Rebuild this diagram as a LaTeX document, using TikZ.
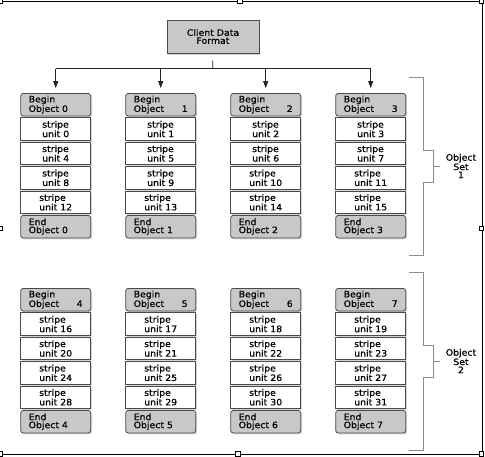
\documentclass[tikz,border=0pt]{standalone}
\usepackage{fontspec}
\setmainfont{DejaVu Sans}[FakeStretch=1.06,FakeBold=0.6]
\usetikzlibrary{arrows.meta,shadows}
\definecolor{boxgray}{HTML}{C8C8C8}
\definecolor{edge}{HTML}{4A4A4A}
\definecolor{conn}{HTML}{222222}
\definecolor{brc}{HTML}{8A8A8A}
\tikzset{
  shad/.style={drop shadow={opacity=0.35,shadow xshift=1.3pt,shadow yshift=-1.5pt}},
  gbox/.style={draw=edge,line width=0.8pt,fill=boxgray,rounded corners=2.5pt,
    minimum width=70pt,minimum height=22.5pt,inner sep=0pt,text width=54pt,align=left,shad},
  sbox/.style={draw=edge,line width=0.8pt,fill=white,minimum width=70pt,
    minimum height=22.5pt,inner sep=0pt,align=left,shad},
  topbox/.style={draw=edge,line width=0.8pt,fill=boxgray,minimum width=92pt,
    minimum height=33pt,inner sep=0pt,align=center,shad},
  conn/.style={draw=conn,line width=0.7pt},
  arr/.style={conn,-{Triangle[length=7pt,width=5pt]},shorten >=5pt},
  brace/.style={draw=brc,line width=0.9pt},
  setlabel/.style={align=center,inner sep=0pt},
  frame/.style={draw=black,line width=0.9pt},
  handle/.style={draw=black,fill=white,line width=0.6pt,minimum size=4.5pt,inner sep=0pt}
}
\begin{document}
\begin{tikzpicture}[x=1pt,y=-1pt,font=\fontsize{8.8}{8}\selectfont]
\useasboundingbox (0,0) rectangle (485,456);
% selection frame
\draw[frame] (-2,1.5) -- (482,1.5) -- (482,454) -- (-2,454);
\foreach \hx/\hy [count=\h] in {0.5/1.5,240/1.5,481.5/1.5,0.5/228.5,481.5/228.5,0.5/454,238/454,481.5/454}
  \node[handle] (h\h) at (\hx,\hy) {};
% top box
\node[topbox] (cdf) at (213,36.5) {Client Data\\Format};
% objects
\foreach \i in {0,...,7}{
  \pgfmathtruncatemacro{\col}{mod(\i,4)}
  \pgfmathtruncatemacro{\set}{int(\i/4)}
  \pgfmathsetmacro{\xc}{55.7+105*\col}
  \pgfmathsetmacro{\yb}{104.7+195*\set}
  \ifnum\i=0
    \node[gbox] (b\i) at (\xc,\yb) {Begin\\Object 0};
  \else
    \node[gbox] (b\i) at (\xc,\yb) {Begin\\Object\hfill\i};
  \fi
  \foreach \r in {1,...,4}{
    \pgfmathtruncatemacro{\u}{16*\set+4*(\r-1)+\col}
    \pgfmathsetmacro{\ys}{\yb+24.4*\r}
    \node[sbox] (s\i-\r) at (\xc,\ys) {stripe\\unit \u};
  }
  \pgfmathsetmacro{\ye}{\yb+24.4*5}
  \node[gbox] (e\i) at (\xc,\ye) {End\\Object \i};
}
% connectors
\coordinate (bus) at (212.7,68.7);
\draw[conn,shorten <=7pt] (cdf.south) -- (bus);
\draw[conn] (b0.north |- bus) -- (b3.north |- bus);
\foreach \c in {0,...,3}
  \draw[arr] (b\c.north |- bus) -- (b\c.north);
% braces
\draw[brace] (409,77) -- (423,77) -- (423,150) -- (433,150) -- (433,182) -- (423,182) -- (423,255) -- (409,255);
\draw[brace] (433,166) -- (440,166);
\node[setlabel] (set1) at (461,166) {Object\\Set\\1};
\draw[brace] (409,272) -- (423,272) -- (423,345) -- (433,345) -- (433,377) -- (423,377) -- (423,450) -- (409,450);
\draw[brace] (433,361) -- (440,361);
\node[setlabel] (set2) at (461,361) {Object\\Set\\2};
\end{tikzpicture}
\end{document}
